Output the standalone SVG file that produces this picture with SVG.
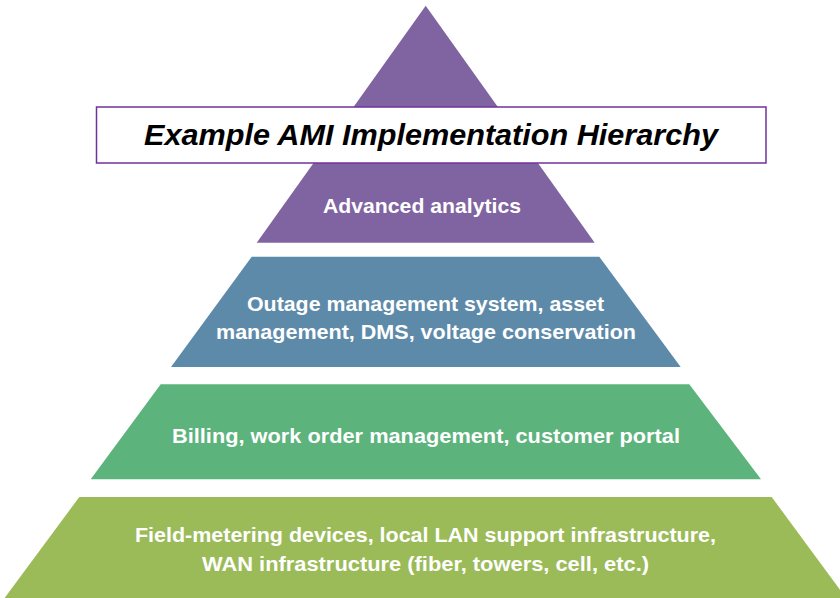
<svg xmlns="http://www.w3.org/2000/svg" width="840" height="598" viewBox="0 0 840 598">
<style>
.lbl{font-family:"Liberation Sans",Arial,sans-serif;font-weight:bold;font-size:21px;fill:#ffffff;text-anchor:middle}
.title{font-family:"Liberation Sans",Arial,sans-serif;font-weight:bold;font-style:italic;font-size:29px;fill:#000000;text-anchor:middle}
</style>
<rect width="840" height="598" fill="#ffffff"/>
<g id="tier-analytics">
<polygon points="425.7,5.7 594.7,242.7 256.7,242.7" fill="#8064A2"/>
<text class="lbl" x="422" y="212.5" textLength="198" lengthAdjust="spacingAndGlyphs">Advanced analytics</text>
</g>
<g id="title">
<rect x="96.5" y="107" width="669.5" height="56" fill="#ffffff" stroke="#7030A0" stroke-width="1.5"/>
<text class="title" x="431" y="144.5" textLength="574" lengthAdjust="spacingAndGlyphs">Example AMI Implementation Hierarchy</text>
</g>
<g id="tier-oms">
<polygon points="251.7,256.7 599.3,256.7 680.7,367 171,367" fill="#5E8AAA"/>
<text class="lbl" x="425.5" y="310.5" textLength="357" lengthAdjust="spacingAndGlyphs">Outage management system, asset</text>
<text class="lbl" x="426" y="339" textLength="420" lengthAdjust="spacingAndGlyphs">management, DMS, voltage conservation</text>
</g>
<g id="tier-billing">
<polygon points="160.7,384.3 689.3,384.3 761,479.3 90.7,479.3" fill="#5CB37C"/>
<text class="lbl" x="426" y="442.5" textLength="508" lengthAdjust="spacingAndGlyphs">Billing, work order management, customer portal</text>
</g>
<g id="tier-field">
<polygon points="79.3,497 771.7,497 846,598 4.6,598" fill="#9BBB59"/>
<text class="lbl" x="425.5" y="541.5" textLength="581" lengthAdjust="spacingAndGlyphs">Field-metering devices, local LAN support infrastructure,</text>
<text class="lbl" x="425.5" y="570.5" textLength="447" lengthAdjust="spacingAndGlyphs">WAN infrastructure (fiber, towers, cell, etc.)</text>
</g>
<g id="connectors"></g>
</svg>
